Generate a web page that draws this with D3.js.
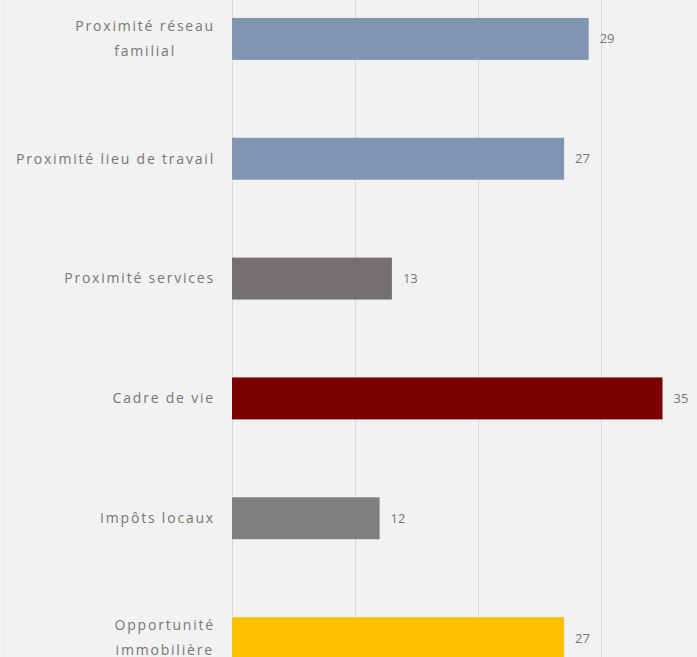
<!DOCTYPE html>
<html>
<head>
<meta charset="utf-8">
<script src="https://cdn.jsdelivr.net/npm/d3@7"></script>
<style>
  html, body { margin: 0; padding: 0; background: #f2f2f2; }
  svg { display: block; }
  text { font-family: "Open Sans", "DejaVu Sans", sans-serif; fill: #767676; }
</style>
</head>
<body>
<svg id="chart" width="697" height="657"></svg>
<script>
// Motifs de choix du lieu de résidence
const categories = [
  ["Proximité réseau", "familial"],
  ["Proximité lieu de travail"],
  ["Proximité services"],
  ["Cadre de vie"],
  ["Impôts locaux"],
  ["Opportunité", "immobilière"]
];
const values = [29, 27, 13, 35, 12, 27];
const barColors = ["#7f96b2", "#7f96b2", "#747070", "#7b0000", "#7f7f7f", "#ffc000"];
const gridTicks = [0, 10, 20, 30, 40];

const W = 697, H = 657;
const svg = d3.select("#chart");

svg.append("rect").attr("width", W).attr("height", H).attr("fill", "#f2f2f2");
svg.append("line").attr("x1", 4.5).attr("x2", 4.5).attr("y1", 0).attr("y2", H)
  .attr("stroke", "#e6e9ea").attr("stroke-width", 1);

const x = d3.scaleLinear().domain([0, 40]).range([232, 724]);
const y = d3.scaleBand().domain(d3.range(categories.length))
  .range([-21, 698]).paddingInner(0.65).paddingOuter(0.325);

// vertical gridlines
svg.append("g").selectAll("line").data(gridTicks).join("line")
  .attr("x1", d => Math.round(x(d)) + 0.5).attr("x2", d => Math.round(x(d)) + 0.5)
  .attr("y1", 0).attr("y2", H)
  .attr("stroke", "#d9d9d9").attr("stroke-width", 1);

// bars
svg.append("g").selectAll("rect").data(values).join("rect")
  .attr("x", x(0)).attr("y", (d, i) => y(i))
  .attr("width", d => x(d) - x(0)).attr("height", y.bandwidth())
  .attr("fill", (d, i) => barColors[i]);

// value labels
svg.append("g").selectAll("text").data(values).join("text")
  .attr("x", d => x(d) + 11).attr("y", (d, i) => y(i) + y.bandwidth() / 2)
  .attr("dy", "0.35em")
  .attr("font-size", 13)
  .text(d => d);

// category labels (multi-line labels are centred within their block)
const labelRight = 215;
const lineGap = 25;
const lg = svg.append("g");
categories.forEach((lines, i) => {
  const cy = y(i) + y.bandwidth() / 2;
  const g = lg.append("g");
  const texts = lines.map((s, k) => g.append("text")
    .attr("font-size", 14)
    .attr("letter-spacing", 1.8)
    .attr("dy", "0.35em")
    .attr("y", cy + (k - (lines.length - 1) / 2) * lineGap)
    .text(s));
  const widths = texts.map(t => t.node().getComputedTextLength());
  const maxW = d3.max(widths);
  texts.forEach(t => {
    t.attr("text-anchor", "middle").attr("x", labelRight - maxW / 2);
  });
});
</script>
</body>
</html>
